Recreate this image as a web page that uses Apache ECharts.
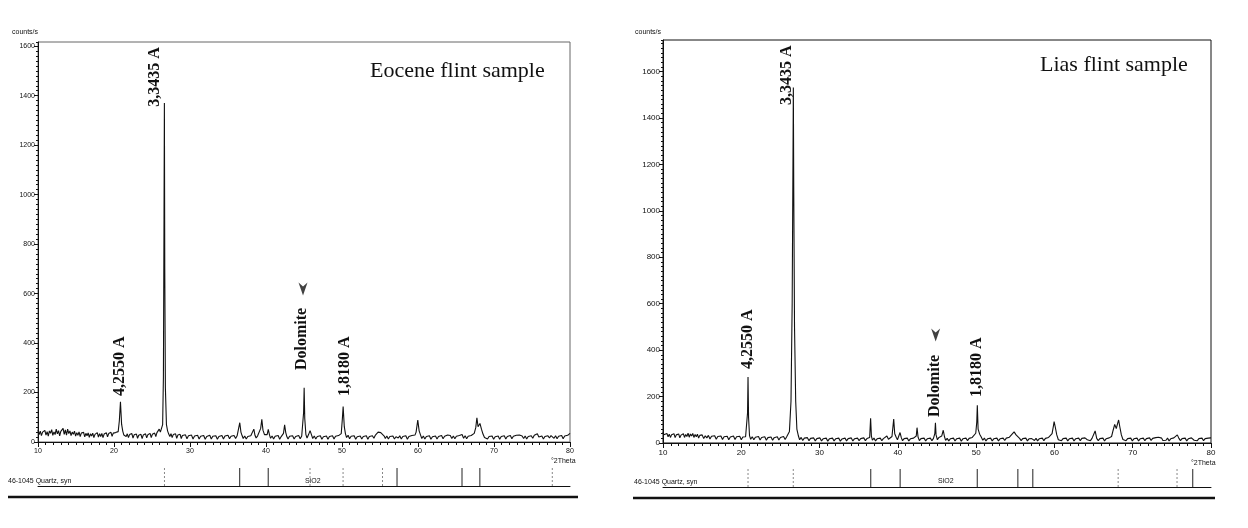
<!DOCTYPE html>
<html>
<head>
<meta charset="utf-8">
<script src="https://cdn.jsdelivr.net/npm/echarts@6/dist/echarts.min.js"></script>
<style>
html,body{margin:0;padding:0;background:#fff;}
#chart{width:1248px;height:528px;}
</style>
</head>
<body>
<div id="chart"></div>
<script>
// ---------- DATA ----------
const xTicks = [10, 20, 30, 40, 50, 60, 70, 80];
const yTicks = [0, 200, 400, 600, 800, 1000, 1200, 1400, 1600];

// Eocene flint scan [°2Theta, counts/s]
const eoceneScan = [
[10,48],[10.15,30],[10.3,44],[10.45,26],[10.6,40],[10.75,33],[10.9,47],[11.05,28],[11.2,42],[11.35,24],[11.5,45],[11.65,35],[11.8,50],[11.95,27],[12.1,41],[12.25,30],[12.4,52],[12.55,33],[12.7,46],[12.85,25],[13,43],[13.15,36],[13.3,55],[13.45,31],[13.6,49],[13.75,28],[13.9,52],[14.05,34],[14.2,45],[14.35,26],[14.5,40],[14.65,31],[14.8,44],[14.95,24],[15.1,38],[15.25,27],[15.4,41],[15.55,22],[15.7,36],[15.85,29],[16,39],[16.15,21],[16.3,35],[16.45,25],[16.6,37],[16.75,19],[16.9,33],[17.05,24],[17.2,36],[17.35,18],[17.5,31],[17.65,26],[17.8,38],[17.95,20],[18.1,34],[18.25,22],[18.4,35],[18.55,18],[18.7,32],[18.85,25],[19,37],[19.15,21],[19.3,34],[19.45,26],[19.6,39],[19.75,23],[19.9,36],[20.05,28],[20.2,38],[20.35,30],[20.55,42],[20.7,85],[20.85,163],[21.0,72],[21.15,44],[21.3,28],[21.45,36],[21.6,22],[21.75,33],[21.9,18],[22.05,30],[22.2,24],[22.35,34],[22.5,16],[22.65,29],[22.8,21],[22.95,32],[23.1,15],[23.25,27],[23.4,20],[23.55,31],[23.7,14],[23.85,28],[24,22],[24.15,33],[24.3,17],[24.45,29],[24.6,23],[24.75,35],[24.9,18],[25.05,31],[25.2,25],[25.35,36],[25.5,22],[25.65,38],[25.8,33],[25.95,52],[26.1,40],[26.25,48],[26.4,70],[26.5,260],[26.58,900],[26.63,1370],[26.68,700],[26.76,220],[26.9,70],[27.05,45],[27.2,32],[27.35,22],[27.5,34],[27.65,18],[27.8,30],[27.95,24],[28.1,33],[28.25,15],[28.4,28],[28.55,20],[28.7,31],[28.85,14],[29,26],[29.2,19],[29.4,29],[29.6,13],[29.8,25],[30,18],[30.2,28],[30.4,12],[30.6,24],[30.8,17],[31,27],[31.2,12],[31.4,23],[31.6,16],[31.8,26],[32,11],[32.2,22],[32.4,17],[32.6,27],[32.8,12],[33,23],[33.2,15],[33.4,25],[33.6,11],[33.8,22],[34,16],[34.2,26],[34.4,12],[34.6,24],[34.8,17],[35,27],[35.2,13],[35.4,23],[35.6,16],[35.8,26],[36,14],[36.2,25],[36.35,32],[36.55,78],[36.7,40],[36.85,26],[37,14],[37.2,24],[37.4,12],[37.6,22],[37.8,15],[38,25],[38.15,18],[38.25,26],[38.4,52],[38.55,27],[38.7,16],[38.9,25],[39.1,30],[39.3,55],[39.45,92],[39.6,48],[39.8,30],[40,22],[40.15,30],[40.3,51],[40.45,30],[40.6,15],[40.8,24],[41,12],[41.2,23],[41.4,16],[41.6,26],[41.8,11],[42,22],[42.15,20],[42.3,35],[42.45,69],[42.6,38],[42.75,21],[42.9,12],[43.1,23],[43.3,15],[43.5,25],[43.7,12],[43.9,22],[44.1,16],[44.3,26],[44.5,13],[44.7,24],[44.85,28],[44.95,120],[45.02,219],[45.1,95],[45.25,30],[45.4,16],[45.6,30],[45.8,46],[46,28],[46.15,14],[46.35,24],[46.55,12],[46.75,22],[46.95,15],[47.15,25],[47.35,11],[47.55,21],[47.75,15],[47.95,24],[48.15,11],[48.35,22],[48.55,16],[48.75,25],[48.95,12],[49.15,23],[49.35,16],[49.55,26],[49.75,22],[49.9,34],[50.05,95],[50.15,143],[50.3,62],[50.45,34],[50.6,18],[50.8,27],[51,13],[51.2,23],[51.4,15],[51.6,25],[51.8,11],[52,21],[52.2,15],[52.4,24],[52.6,12],[52.8,22],[53,16],[53.2,25],[53.4,11],[53.6,22],[53.8,16],[54,25],[54.2,15],[54.4,28],[54.6,32],[54.75,40],[54.9,48],[55.1,38],[55.35,35],[55.55,24],[55.7,14],[55.9,24],[56.1,12],[56.3,22],[56.5,15],[56.7,24],[56.9,12],[57.1,21],[57.25,28],[57.4,16],[57.6,25],[57.8,12],[58,22],[58.2,15],[58.4,25],[58.6,11],[58.8,22],[59,16],[59.2,26],[59.4,18],[59.6,28],[59.75,40],[59.97,89],[60.15,45],[60.35,27],[60.5,14],[60.7,24],[60.9,12],[61.1,22],[61.3,15],[61.5,25],[61.7,11],[61.9,21],[62.1,15],[62.3,24],[62.5,12],[62.7,22],[62.9,16],[63.1,26],[63.3,13],[63.5,23],[63.7,18],[63.9,28],[64.05,36],[64.25,26],[64.45,14],[64.65,24],[64.85,13],[65.05,23],[65.25,16],[65.45,26],[65.65,18],[65.8,30],[66,15],[66.2,25],[66.4,13],[66.6,23],[66.8,16],[67,26],[67.2,22],[67.4,35],[67.6,58],[67.75,98],[67.9,62],[68.05,60],[68.15,75],[68.35,52],[68.55,32],[68.75,18],[68.95,26],[69.15,12],[69.35,22],[69.55,15],[69.75,24],[69.95,11],[70.15,21],[70.35,15],[70.55,24],[70.75,11],[70.95,22],[71.15,16],[71.35,25],[71.55,12],[71.75,22],[71.95,16],[72.15,26],[72.35,13],[72.55,23],[72.75,17],[72.95,27],[73.15,20],[73.35,28],[73.5,34],[73.7,24],[73.9,14],[74.1,24],[74.3,12],[74.5,22],[74.7,16],[74.9,25],[75.1,15],[75.3,27],[75.5,24],[75.7,33],[75.9,20],[76.1,14],[76.3,24],[76.5,12],[76.7,22],[76.9,15],[77.1,25],[77.3,16],[77.5,26],[77.7,30],[77.9,15],[78.1,25],[78.3,13],[78.5,23],[78.7,16],[78.9,26],[79.1,13],[79.3,24],[79.5,17],[79.7,27],[79.85,22],[80,35]
];

// Lias flint scan [°2Theta, counts/s]
const liasScan = [
[10,48],[10.1,36],[10.2,44],[10.35,30],[10.5,41],[10.65,27],[10.8,38],[10.95,24],[11.1,36],[11.25,29],[11.4,40],[11.55,23],[11.7,35],[11.85,27],[12,39],[12.15,22],[12.3,34],[12.45,26],[12.6,40],[12.75,24],[12.9,37],[13.05,28],[13.2,42],[13.35,25],[13.5,39],[13.65,30],[13.8,41],[13.95,24],[14.1,37],[14.25,27],[14.4,38],[14.55,21],[14.7,33],[14.85,25],[15,35],[15.2,19],[15.4,31],[15.6,22],[15.8,33],[16,17],[16.2,29],[16.4,21],[16.6,31],[16.8,16],[17,28],[17.2,20],[17.4,30],[17.6,15],[17.8,27],[18,19],[18.2,29],[18.4,14],[18.6,26],[18.8,20],[19,30],[19.2,15],[19.4,27],[19.6,19],[19.8,29],[20,14],[20.2,26],[20.4,18],[20.55,27],[20.7,30],[20.8,130],[20.86,284],[20.93,110],[21.05,32],[21.2,16],[21.4,27],[21.6,14],[21.8,25],[22,18],[22.2,28],[22.4,13],[22.6,24],[22.8,17],[23,27],[23.2,12],[23.4,23],[23.6,17],[23.8,26],[24,12],[24.2,23],[24.4,16],[24.6,27],[24.8,13],[25,24],[25.2,18],[25.4,28],[25.6,15],[25.8,27],[25.95,32],[26.15,50],[26.35,180],[26.5,600],[26.6,1200],[26.65,1531],[26.7,1100],[26.8,500],[26.95,180],[27.1,60],[27.3,30],[27.45,14],[27.65,24],[27.85,11],[28.05,21],[28.25,14],[28.45,23],[28.65,10],[28.85,20],[29.05,13],[29.25,22],[29.45,9],[29.65,19],[29.85,13],[30.05,22],[30.25,9],[30.45,18],[30.65,12],[30.85,21],[31.05,8],[31.25,18],[31.45,12],[31.65,21],[31.85,9],[32.05,18],[32.25,12],[32.45,21],[32.65,8],[32.85,17],[33.05,12],[33.25,21],[33.45,9],[33.65,19],[33.85,13],[34.05,22],[34.25,9],[34.45,18],[34.65,12],[34.85,21],[35.05,10],[35.25,19],[35.45,13],[35.65,22],[35.85,10],[36.05,19],[36.25,14],[36.4,24],[36.52,107],[36.62,30],[36.75,12],[36.95,21],[37.15,9],[37.35,18],[37.55,12],[37.75,21],[37.95,10],[38.15,19],[38.35,14],[38.6,30],[38.8,16],[39.0,22],[39.25,28],[39.47,103],[39.6,40],[39.8,24],[39.95,14],[40.1,22],[40.28,45],[40.45,22],[40.6,10],[40.8,19],[41,12],[41.2,21],[41.4,9],[41.6,18],[41.8,12],[42,21],[42.2,14],[42.35,30],[42.45,66],[42.58,26],[42.75,10],[42.95,19],[43.15,12],[43.35,21],[43.55,9],[43.75,18],[43.95,12],[44.15,21],[44.35,10],[44.55,20],[44.72,40],[44.8,87],[44.88,35],[45.05,14],[45.25,24],[45.45,26],[45.6,30],[45.8,55],[45.95,28],[46.1,11],[46.3,20],[46.5,9],[46.7,18],[46.9,12],[47.1,21],[47.3,9],[47.5,18],[47.7,12],[47.9,21],[48.1,8],[48.3,18],[48.5,12],[48.7,21],[48.9,10],[49.1,20],[49.3,14],[49.5,24],[49.7,30],[49.95,42],[50.08,90],[50.15,163],[50.25,60],[50.45,38],[50.65,26],[50.85,12],[51.05,21],[51.25,9],[51.45,18],[51.65,12],[51.85,21],[52.05,9],[52.25,18],[52.45,12],[52.65,21],[52.85,9],[53.05,18],[53.25,12],[53.45,21],[53.65,11],[53.85,21],[54.05,15],[54.25,25],[54.5,28],[54.85,48],[55.1,35],[55.35,30],[55.55,20],[55.75,10],[55.95,19],[56.15,12],[56.35,21],[56.55,9],[56.75,18],[56.95,13],[57.1,19],[57.25,24],[57.45,11],[57.65,20],[57.85,9],[58.05,18],[58.25,12],[58.45,21],[58.65,10],[58.85,20],[59.05,14],[59.25,24],[59.45,22],[59.7,40],[59.88,75],[59.96,92],[60.1,70],[60.3,35],[60.5,14],[60.7,22],[60.9,10],[61.1,19],[61.3,12],[61.5,21],[61.7,9],[61.9,18],[62.1,12],[62.3,21],[62.5,9],[62.7,18],[62.9,12],[63.1,21],[63.3,10],[63.5,20],[63.7,13],[63.9,22],[64,27],[64.2,14],[64.4,22],[64.6,10],[64.8,20],[65,16],[65.2,52],[65.4,20],[65.6,10],[65.8,19],[66,12],[66.2,21],[66.4,9],[66.6,18],[66.8,13],[67,22],[67.15,18],[67.3,28],[67.5,55],[67.7,80],[67.9,62],[68.1,88],[68.2,99],[68.35,70],[68.55,35],[68.75,15],[68.95,22],[69.15,10],[69.35,19],[69.55,12],[69.75,21],[69.95,9],[70.15,18],[70.35,12],[70.55,21],[70.75,9],[70.95,18],[71.15,12],[71.35,21],[71.55,10],[71.75,19],[71.95,13],[72.15,22],[72.35,11],[72.55,20],[72.75,14],[72.95,23],[73.15,18],[73.3,25],[73.5,30],[73.7,21],[73.85,11],[74.05,19],[74.25,12],[74.45,21],[74.65,9],[74.85,18],[75.05,13],[75.25,22],[75.45,24],[75.7,35],[75.9,20],[76.1,10],[76.3,19],[76.5,12],[76.7,21],[76.9,9],[77.1,18],[77.3,13],[77.5,22],[77.65,24],[77.85,12],[78.05,20],[78.25,10],[78.45,19],[78.65,12],[78.85,21],[79.05,10],[79.25,19],[79.45,13],[79.65,21],[79.85,14],[80,22]
];

// Peak annotations (text, anchor °2Theta, anchor counts at text bottom)
const eoceneLabelText = ['4,2550 A', '3,3435 A', 'Dolomite', '1,8180 A'];
const eoceneLabelTheta = [20.8, 25.4, 44.74, 50.4];
const eoceneLabelCounts = [186, 1355, 291, 186];
const eoceneArrow = [[44.87, 619]];

const liasLabelText = ['4,2550 A', '3,3435 A', 'Dolomite', '1,8180 A'];
const liasLabelTheta = [20.86, 25.84, 44.74, 50.1];
const liasLabelCounts = [319, 1456, 112, 198];
const liasArrow = [[44.83, 465]];

// Reference pattern 46-1045 Quartz, syn (stick positions)
const eoceneRefSolid = [36.54, 40.29, 57.24, 65.79, 68.14];
const eoceneRefDashed = [26.64, 45.79, 50.14, 55.33, 77.67];
const liasRefSolid = [36.54, 40.29, 50.14, 55.33, 57.24, 77.67];
const liasRefDashed = [20.86, 26.64, 68.14, 75.66];

const titles = ['Eocene flint sample', 'Lias flint sample'];
const refName = '46-1045 Quartz, syn';
const refFormula = 'SiO2';

// ---------- CHART ----------
const chart = echarts.init(document.getElementById('chart'), null, {renderer: 'canvas'});
const INK = '#111';

function mainX(gridIndex, fs) {
  return {
    type: 'value', gridIndex: gridIndex, min: 10, max: 80, interval: 10, position: 'bottom',
    axisLine: {show: true, lineStyle: {color: INK, width: 1}},
    axisTick: {show: true, length: 5, lineStyle: {color: INK}},
    minorTick: {show: true, splitNumber: 10, length: 3, lineStyle: {color: INK}},
    axisLabel: {show: true, fontSize: fs, color: INK, fontFamily: 'Liberation Sans', margin: 6,
      formatter: v => xTicks.includes(v) ? String(v) : ''},
    splitLine: {show: false}
  };
}
function mainY(gridIndex, max, fs) {
  return {
    type: 'value', gridIndex: gridIndex, min: 0, max: max, interval: 200, position: 'left',
    axisLine: {show: true, lineStyle: {color: INK, width: 1}},
    axisTick: {show: true, length: 4, lineStyle: {color: INK}},
    axisLabel: {show: true, fontSize: fs, color: INK, fontFamily: 'Liberation Sans', margin: 3,
      showMaxLabel: false, formatter: v => yTicks.includes(v) ? String(v) : ''},
    splitLine: {show: false}
  };
}
function minorY(gridIndex, max) {
  return {
    type: 'value', gridIndex: gridIndex, min: 0, max: max, interval: 20, position: 'left',
    axisLine: {show: false}, axisLabel: {show: false}, splitLine: {show: false},
    axisTick: {show: true, length: 2, lineStyle: {color: INK}}
  };
}
function stripX(gridIndex) {
  return {
    type: 'value', gridIndex: gridIndex, min: 10, max: 80, position: 'bottom',
    axisLine: {show: true, lineStyle: {color: INK, width: 1}},
    axisTick: {show: false}, axisLabel: {show: false}, splitLine: {show: false}
  };
}
function stripY(gridIndex) {
  return {type: 'value', gridIndex: gridIndex, min: 0, max: 1, show: false};
}
function sticks(xi, yi, positions, dashed) {
  return {
    type: 'custom', xAxisIndex: xi, yAxisIndex: yi, silent: true,
    data: positions.map(p => [p, 1]),
    encode: {x: 0, y: 1},
    renderItem: function (params, api) {
      const x = api.value(0);
      const p0 = api.coord([x, 0]);
      const p1 = api.coord([x, api.value(1)]);
      return {type: 'line', shape: {x1: p0[0], y1: p0[1], x2: p1[0], y2: p1[1]},
        style: {stroke: dashed ? '#888' : '#222', lineWidth: 1, lineDash: dashed ? [2, 2] : null}};
    }
  };
}
function labels(xi, yi, texts, thetas, counts) {
  return {
    type: 'custom', xAxisIndex: xi, yAxisIndex: yi, silent: true, clip: false,
    data: thetas.map((t, i) => [t, counts[i]]),
    encode: {x: 0, y: 1},
    renderItem: function (params, api) {
      const p = api.coord([api.value(0), api.value(1)]);
      return {type: 'text', x: p[0], y: p[1], rotation: Math.PI / 2,
        style: {text: texts[params.dataIndex], font: 'bold 16px "Liberation Serif"', fill: INK,
          align: 'left', verticalAlign: 'middle'}};
    }
  };
}
function arrow(xi, yi, data) {
  return {
    type: 'scatter', xAxisIndex: xi, yAxisIndex: yi, silent: true, data: data,
    symbol: 'path://M0,0 L5,4 L10,0 L5,13 Z', symbolSize: [9, 13],
    itemStyle: {color: INK}
  };
}
function scan(xi, yi, data) {
  return {
    type: 'line', xAxisIndex: xi, yAxisIndex: yi, data: data, showSymbol: false, symbol: 'none',
    lineStyle: {color: INK, width: 1.1}, silent: true
  };
}

const option = {
  animation: false,
  backgroundColor: '#fff',
  grid: [
    {left: 38, top: 42, width: 532, height: 400, show: true, borderColor: '#666', borderWidth: 1, backgroundColor: 'transparent'},
    {left: 663, top: 40, width: 548, height: 403, show: true, borderColor: INK, borderWidth: 1, backgroundColor: 'transparent'},
    {left: 38, top: 468, width: 532, height: 18},
    {left: 663, top: 469, width: 548, height: 18}
  ],
  xAxis: [mainX(0, 7), mainX(1, 8), stripX(2), stripX(3)],
  yAxis: [mainY(0, 1617, 7), minorY(0, 1617), mainY(1, 1736, 8), minorY(1, 1736), stripY(2), stripY(3)],
  series: [
    scan(0, 0, eoceneScan),
    scan(1, 2, liasScan),
    labels(0, 0, eoceneLabelText, eoceneLabelTheta, eoceneLabelCounts),
    labels(1, 2, liasLabelText, liasLabelTheta, liasLabelCounts),
    arrow(0, 0, eoceneArrow),
    arrow(1, 2, liasArrow),
    sticks(2, 4, eoceneRefSolid, false),
    sticks(2, 4, eoceneRefDashed, true),
    sticks(3, 5, liasRefSolid, false),
    sticks(3, 5, liasRefDashed, true)
  ],
  graphic: [
    {type: 'text', left: 370, top: 60, style: {text: titles[0], font: '22px "Liberation Serif"', fill: INK}},
    {type: 'text', left: 1040, top: 54, style: {text: titles[1], font: '22px "Liberation Serif"', fill: INK}},
    {type: 'text', left: 12, top: 29, style: {text: 'counts/s', font: '7px "Liberation Sans"', fill: INK}},
    {type: 'text', left: 635, top: 29, style: {text: 'counts/s', font: '7px "Liberation Sans"', fill: INK}},
    {type: 'text', left: 551, top: 458, style: {text: '°2Theta', font: '7px "Liberation Sans"', fill: INK}},
    {type: 'text', left: 1191, top: 460, style: {text: '°2Theta', font: '7px "Liberation Sans"', fill: INK}},
    {type: 'text', left: 8, top: 478, style: {text: refName, font: '7px "Liberation Sans"', fill: INK}},
    {type: 'text', left: 634, top: 479, style: {text: refName, font: '7px "Liberation Sans"', fill: INK}},
    {type: 'text', left: 305, top: 478, style: {text: refFormula, font: '7px "Liberation Sans"', fill: INK}},
    {type: 'text', left: 938, top: 478, style: {text: refFormula, font: '7px "Liberation Sans"', fill: INK}},
    {type: 'line', shape: {x1: 8, y1: 497, x2: 578, y2: 497}, style: {stroke: INK, lineWidth: 2.5}},
    {type: 'line', shape: {x1: 633, y1: 498, x2: 1215, y2: 498}, style: {stroke: INK, lineWidth: 2.5}}
  ]
};
chart.setOption(option);
</script>
</body>
</html>
